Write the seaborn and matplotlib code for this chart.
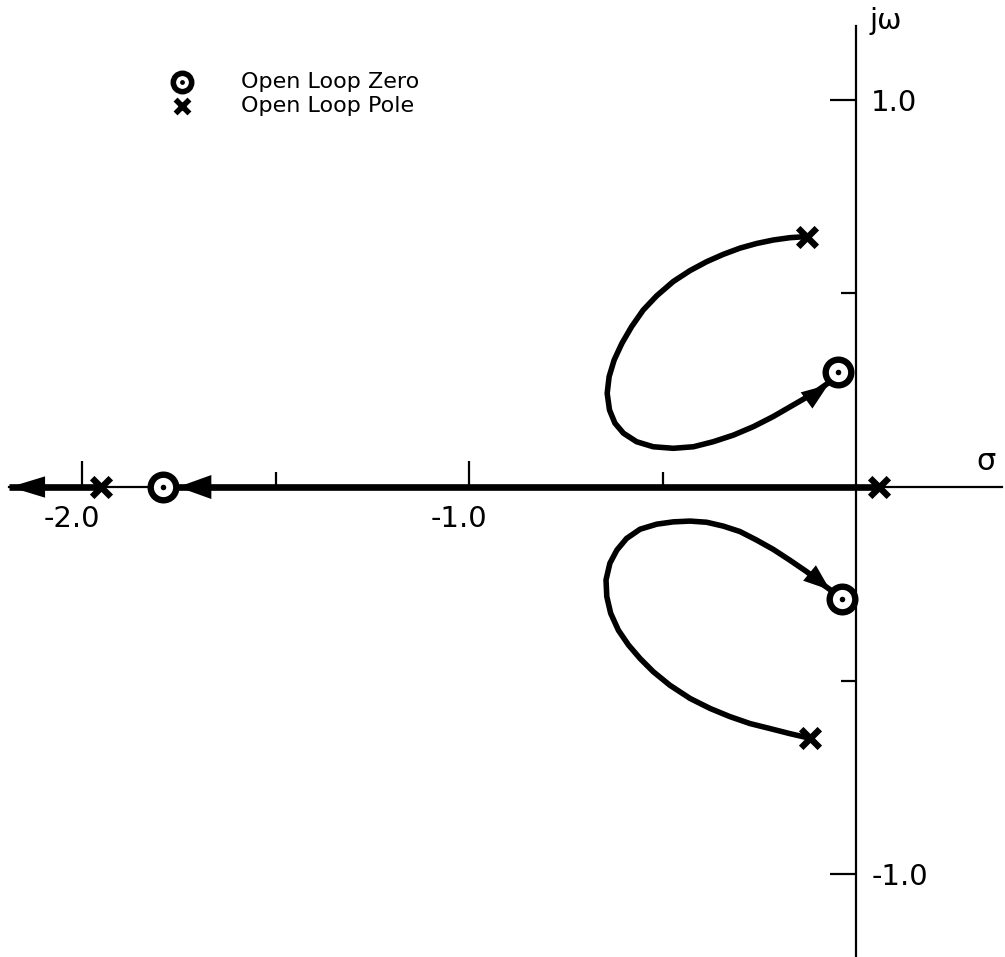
import matplotlib
matplotlib.use("Agg")
import matplotlib.pyplot as plt
from matplotlib.transforms import ScaledTranslation
import seaborn as sns
import pandas as pd

# Root locus data (sigma, j-omega)
# Upper complex branch: from the open-loop pole to the open-loop zero
upper_sigma = [-0.127, -0.171, -0.214, -0.257, -0.300, -0.343, -0.386, -0.429,
               -0.472, -0.515, -0.550, -0.580, -0.605, -0.625, -0.638, -0.643,
               -0.637, -0.623, -0.601, -0.567, -0.524, -0.472, -0.420, -0.369,
               -0.317, -0.265, -0.214, -0.162, -0.110, -0.067, -0.046]
upper_omega = [0.647, 0.644, 0.638, 0.629, 0.617, 0.601, 0.582, 0.559,
               0.531, 0.494, 0.457, 0.414, 0.371, 0.328, 0.285, 0.242,
               0.199, 0.165, 0.139, 0.117, 0.104, 0.100, 0.104, 0.117,
               0.134, 0.156, 0.182, 0.212, 0.242, 0.272, 0.296]

# Lower complex branch: from the open-loop pole to the open-loop zero
lower_sigma = [-0.119, -0.171, -0.222, -0.274, -0.326, -0.377, -0.429, -0.481,
               -0.524, -0.558, -0.588, -0.614, -0.634, -0.644, -0.646, -0.636,
               -0.618, -0.593, -0.558, -0.515, -0.472, -0.429, -0.386, -0.343,
               -0.300, -0.257, -0.214, -0.171, -0.127, -0.084, -0.035]
lower_omega = [-0.649, -0.637, -0.624, -0.611, -0.593, -0.572, -0.546, -0.512,
               -0.477, -0.443, -0.408, -0.370, -0.326, -0.283, -0.240, -0.197,
               -0.163, -0.133, -0.109, -0.096, -0.090, -0.088, -0.091, -0.101,
               -0.115, -0.137, -0.161, -0.189, -0.219, -0.253, -0.288]

# Real-axis branches
real_branch_a = [-1.79, 0.06]
real_branch_b = [-2.19, -1.95]

# Open-loop poles and zeros
pole_sigma = [0.06, -1.95, -0.127, -0.119]
pole_omega = [0.0, 0.0, 0.647, -0.649]
zero_sigma = [-1.79, -0.046, -0.035]
zero_omega = [0.0, 0.296, -0.288]

# Direction arrows: (tip, tail)
arrow_tips = [(-1.752, 0.0), (-2.186, 0.0), (-0.072, 0.264), (-0.067, -0.266)]
arrow_tails = [(-1.640, 0.0), (-2.070, 0.0), (-0.119, 0.230), (-0.119, -0.223)]

# Axis ticks
x_major = [-2.0, -1.0]
x_major_labels = ["-2.0", "-1.0"]
x_minor = [-1.5, -0.5]
y_major = [1.0, -1.0]
y_major_labels = ["1.0", "-1.0"]
y_minor = [0.5, -0.5]

legend_labels = ["Open Loop Zero", "Open Loop Pole"]

sns.set_theme(style="white")
plt.rcParams["font.family"] = ["DejaVu Sans"]
plt.rcParams["axes.unicode_minus"] = False
plt.rcParams["text.color"] = "black"

fig = plt.figure(figsize=(10.05, 9.57), dpi=100)
ax = fig.add_axes([0, 0, 1, 1])
ax.set_xlim(-2.212, 0.385)
ax.set_ylim(-1.214, 1.258)

lw_locus = 4.0

# Complex branches
for s_vals, w_vals in ((upper_sigma, upper_omega), (lower_sigma, lower_omega)):
    sns.lineplot(data=pd.DataFrame({"s": s_vals, "w": w_vals}), x="s", y="w",
                 sort=False, estimator=None, color="black", lw=lw_locus, ax=ax,
                 solid_capstyle="round", solid_joinstyle="round")

# Real-axis branches
for seg in (real_branch_a, real_branch_b):
    sns.lineplot(x=seg, y=[0.0] * len(seg), sort=False, estimator=None,
                 color="black", lw=4.8, ax=ax, solid_capstyle="butt")

# Arrowheads
head_specs = [(1.0, 0.36), (1.05, 0.32), (0.8, 0.3), (0.8, 0.3)]
for tip, tail, (hl, hw) in zip(arrow_tips, arrow_tails, head_specs):
    ax.annotate("", xy=tip, xytext=tail,
                arrowprops=dict(arrowstyle=f"-|>,head_length={hl},head_width={hw}",
                                mutation_scale=24, lw=0, color="black",
                                shrinkA=0, shrinkB=0), zorder=4)

# Zeros: ring with centre dot
sns.scatterplot(x=zero_sigma, y=zero_omega, marker="o", s=340, facecolor="white",
                edgecolor="black", linewidth=4.6, ax=ax, zorder=5)
sns.scatterplot(x=zero_sigma, y=zero_omega, marker="o", s=16, color="black",
                linewidth=0, ax=ax, zorder=6)
# Poles
sns.scatterplot(x=pole_sigma, y=pole_omega, marker="x", s=180, color="black",
                linewidth=4.6, ax=ax, zorder=5)

# Axes through the origin
for side in ("left", "top"):
    ax.spines[side].set_visible(False)
ax.spines["bottom"].set_position(("data", 0))
ax.spines["right"].set_position(("data", 0))
ax.spines["bottom"].set_bounds(-2.19, 0.377)
ax.spines["right"].set_bounds(-1.214, 1.19)
for side in ("bottom", "right"):
    ax.spines[side].set_linewidth(1.6)
    ax.spines[side].set_color("black")

ax.xaxis.set_ticks_position("bottom")
ax.yaxis.set_ticks_position("right")
ax.set_xticks(x_major, x_major_labels)
ax.set_xticks(x_minor, minor=True)
ax.set_yticks(y_major, y_major_labels)
ax.set_yticks(y_minor, minor=True)
ax.tick_params(axis="both", which="major", direction="in", length=19, width=1.6,
               color="black", labelsize=21, labelcolor="black")
ax.tick_params(axis="both", which="minor", direction="in", length=10.5, width=1.6,
               color="black")
ax.tick_params(axis="x", which="major", pad=13)
ax.tick_params(axis="y", which="major", pad=11)
ax.set_xlabel("")
ax.set_ylabel("")
# The hyphen sits apart from the digits, so the labels read slightly left of their ticks
shift = ScaledTranslation(-10 / 100, 0, fig.dpi_scale_trans)
for lab in ax.get_xticklabels():
    lab.set_transform(lab.get_transform() + shift)

# Axis names
ax.text(0.035, 1.205, "jω", fontsize=21, ha="left", va="center", color="black")
ax.text(0.335, 0.065, "σ", fontsize=22, ha="center", va="center", color="black")

# Legend
leg_y = [0.914, 0.889]
ax.scatter([0.181], [leg_y[0]], marker="o", s=175, facecolor="white", edgecolor="black",
           linewidth=4.0, transform=ax.transAxes, zorder=5)
ax.scatter([0.181], [leg_y[0]], marker="o", s=12, color="black", linewidth=0,
           transform=ax.transAxes, zorder=6)
ax.scatter([0.181], [leg_y[1]], marker="x", s=100, color="black", linewidth=4.0,
           transform=ax.transAxes, zorder=5)
for y, label in zip(leg_y, legend_labels):
    ax.text(0.240, y, label, fontsize=16, ha="left", va="center",
            color="black", transform=ax.transAxes)

fig.savefig("out.png", dpi=100, facecolor="white")
